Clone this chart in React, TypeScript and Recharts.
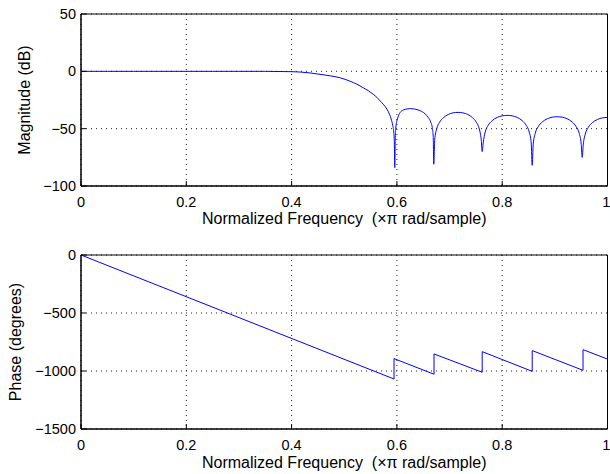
import { CartesianGrid, Label, Line, LineChart, ReferenceArea, XAxis, YAxis } from "recharts";

const xTicks = [0, 0.2, 0.4, 0.6, 0.8, 1];
const magTicks = [-100, -50, 0, 50];
const phaseTicks = [-1500, -1000, -500, 0];

// magnitude response
const magFreq = [
  0, 0.05, 0.1, 0.15, 0.2, 0.25, 0.3, 0.35, 0.4, 0.416, 0.435, 0.454, 0.473, 0.492, 0.511, 0.524, 0.536,
  0.546, 0.555, 0.562, 0.568, 0.575, 0.581, 0.586, 0.589, 0.592, 0.594, 0.595, 0.596,
  0.5968, 0.5978, 0.5996, 0.602, 0.606, 0.612, 0.619, 0.626, 0.633, 0.64, 0.647, 0.654, 0.66, 0.6645, 0.6675, 0.669, 0.67,
  0.6718, 0.6755, 0.681, 0.6884, 0.6976, 0.7068, 0.716, 0.7252, 0.7344, 0.7436, 0.751, 0.7565, 0.7602, 0.762,
  0.7639, 0.7677, 0.7734, 0.781, 0.7905, 0.8, 0.8095, 0.819, 0.8285, 0.838, 0.8456, 0.8513, 0.8551, 0.857,
  0.8589, 0.8627, 0.8684, 0.876, 0.8855, 0.895, 0.9045, 0.914, 0.9235, 0.933, 0.9406, 0.9463, 0.9501, 0.952,
  0.9539, 0.9578, 0.9635, 0.9712, 0.9808, 0.9904, 1
];
const magDb = [
  0, 0, 0, 0, 0, 0, 0, 0, -0.3, -0.6, -1.4, -2.6, -3.9, -5.6, -8.6, -11.2, -14.3,
  -17, -20, -22.7, -25.7, -29.2, -32.9, -37.5, -41.4, -47, -53, -60, -84,
  -60, -50, -44, -40, -36, -33.8, -32.8, -32.5, -32.8, -33.6, -35, -37.2, -40.5, -44.5, -50, -57, -81,
  -59.8, -50.3, -44.5, -40.4, -37.6, -36.2, -35.8, -36.2, -37.6, -40.4, -44.5, -50.3, -59.8, -70,
  -62.4, -52.9, -47.1, -43, -40.2, -38.8, -38.4, -38.8, -40.2, -43, -47.1, -52.9, -62.4, -82,
  -63.6, -54.1, -48.3, -44.2, -41.4, -40, -39.6, -40, -41.4, -44.2, -48.3, -54.1, -63.6, -75,
  -64.2, -54.7, -48.9, -44.8, -42, -40.6, -40.2
];

// phase response (linear with 180 deg jumps at the nulls)
const phaseFreq = [0, 0.5945, 0.5945, 0.6705, 0.6705, 0.762, 0.762, 0.857, 0.857, 0.9535, 0.9535, 1];
const phaseDeg = [0, -1069, -893, -1028, -853, -1011, -833, -1003, -824, -994, -816, -897];

const magData = magFreq.map((f, i) => ({ f, v: magDb[i] }));
const phaseData = phaseFreq.map((f, i) => ({ f, v: phaseDeg[i] }));

const FONT = "'Liberation Sans', Arial, Helvetica, sans-serif";
const tickStyle = { fontSize: 14.5, fill: "#000", fontFamily: FONT };
const fmt = (v: number) => (v < 0 ? `\u2212${Math.abs(v)}` : `${v}`);
const X_TITLE = "Normalized Frequency\u00a0 (\u00d7\u03c0 rad/sample)";

function yTitle(text: string, cx: number) {
  return (props: any) => {
    const vb = props.viewBox || {};
    const cy = vb.y + vb.height / 2;
    return (
      <text
        x={cx}
        y={cy}
        transform={`rotate(-90, ${cx}, ${cy})`}
        textAnchor="middle"
        dominantBaseline="central"
        fontSize={16}
        fontFamily={FONT}
        fill="#000"
      >
        {text}
      </text>
    );
  };
}

function Panel({
  data,
  yDomain,
  yTicks,
  title,
  titleX,
  top,
  bottomAxis,
  titleOffset,
  curve
}: {
  data: { f: number; v: number }[];
  yDomain: [number, number];
  yTicks: number[];
  title: string;
  titleX: number;
  top: number;
  bottomAxis: number;
  titleOffset: number;
  curve: "monotone" | "linear";
}) {
  return (
    <LineChart width={610} height={237} data={data} margin={{ top, right: 2.5, left: 0, bottom: 0 }}>
      <CartesianGrid stroke="#222" strokeDasharray="1 4" horizontalValues={yTicks} verticalValues={xTicks} />
      <ReferenceArea x1={0} x2={1} y1={yDomain[0]} y2={yDomain[1]} fill="none" stroke="#000" strokeWidth={1} />
      <XAxis
        dataKey="f"
        type="number"
        domain={[0, 1]}
        ticks={xTicks}
        height={bottomAxis}
        tickSize={-5}
        tickMargin={16}
        tick={tickStyle}
        stroke="#000"
        tickFormatter={(v) => `${v}`}
      >
        <Label
          value={X_TITLE}
          position="insideTop"
          offset={titleOffset}
          style={{ fontSize: 16, fill: "#000", fontFamily: FONT }}
        />
      </XAxis>
      <XAxis xAxisId="top" orientation="top" type="number" domain={[0, 1]} ticks={xTicks} height={0} tickSize={-5} tick={false} stroke="#000" />
      <YAxis
        type="number"
        domain={yDomain}
        ticks={yTicks}
        width={81}
        tickSize={-5}
        tickMargin={10}
        tick={tickStyle}
        stroke="#000"
        tickFormatter={fmt}
        allowDataOverflow
      >
        <Label content={yTitle(title, titleX)} />
      </YAxis>
      <YAxis yAxisId="right" orientation="right" type="number" domain={yDomain} ticks={yTicks} width={0} tickSize={-5} tick={false} stroke="#000" />
      <Line dataKey="v" type={curve} stroke="#0000ff" strokeWidth={1} dot={false} isAnimationActive={false} />
    </LineChart>
  );
}

export default function App() {
  return (
    <div style={{ position: "absolute", left: 0, top: 0, width: 610, height: 474, background: "#fff" }}>
      <Panel data={magData} yDomain={[-100, 50]} yTicks={magTicks} title="Magnitude (dB)" titleX={24} top={14} bottomAxis={51} titleOffset={27} curve="monotone" />
      <Panel data={phaseData} yDomain={[-1500, 0]} yTicks={phaseTicks} title="Phase (degrees)" titleX={15.5} top={18} bottomAxis={45} titleOffset={27.5} curve="linear" />
    </div>
  );
}
